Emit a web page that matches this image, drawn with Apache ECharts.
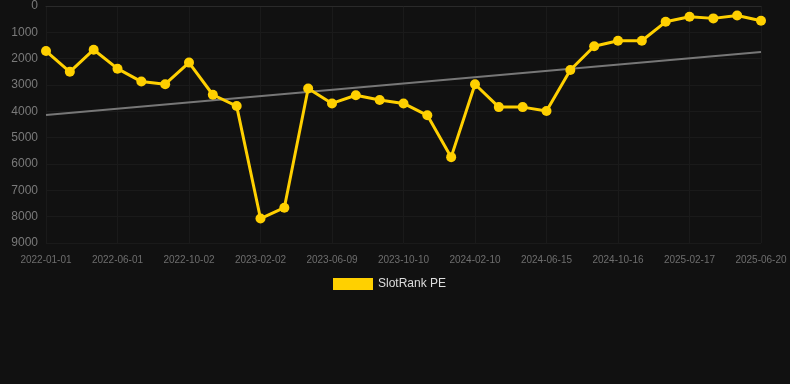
<!DOCTYPE html>
<html>
<head>
<meta charset="utf-8">
<script src="https://cdn.jsdelivr.net/npm/echarts@6/dist/echarts.min.js"></script>
<style>
html,body{margin:0;padding:0;background:#111111;}
#chart{width:790px;height:384px;}
</style>
</head>
<body>
<div id="chart"></div>
<script>
const dates = [
  "2022-01-01","2022-02-20","2022-04-11","2022-06-01","2022-07-22","2022-08-31",
  "2022-10-02","2022-11-12","2022-12-23","2023-02-02","2023-03-16","2023-04-27",
  "2023-06-09","2023-07-20","2023-08-30","2023-10-10","2023-11-20","2023-12-31",
  "2024-02-10","2024-03-22","2024-05-03","2024-06-15","2024-07-26","2024-09-05",
  "2024-10-16","2024-11-26","2025-01-06","2025-02-17","2025-03-31","2025-05-10",
  "2025-06-20"
];
const rankValues = [
  1710, 2500, 1660, 2380, 2870, 2970,
  2150, 3370, 3800, 8070, 7660, 3130,
  3700, 3390, 3570, 3700, 4150, 5740,
  2970, 3840, 3840, 3990, 2430, 1530,
  1320, 1320, 600, 410, 470, 360,
  560
];
const trendEnds = [4140, 1750];
const yTicks = { min: 0, max: 9000, interval: 1000 };

const trendData = dates.map((d, i) => i === 0 ? trendEnds[0] : (i === dates.length - 1 ? trendEnds[1] : null));

const chart = echarts.init(document.getElementById('chart'));
chart.setOption({
  backgroundColor: '#111111',
  animation: false,
  grid: { left: 46, right: 29, top: 6, bottom: 141 },
  legend: {
    show: true,
    top: 278,
    left: 333,
    itemWidth: 40,
    itemHeight: 12,
    itemGap: 10,
    padding: 0,
    textStyle: { color: '#dddddd', fontSize: 12, fontFamily: 'Liberation Sans, Arial, sans-serif' },
    data: [{ name: 'SlotRank PE', icon: 'rect' }]
  },
  xAxis: {
    type: 'category',
    data: dates,
    boundaryGap: false,
    axisLine: { show: true, lineStyle: { color: '#2a2a2a' } },
    axisTick: { show: false },
    axisLabel: { interval: 2, color: '#6e6e6e', fontSize: 10, margin: 12, fontFamily: 'Liberation Sans, Arial, sans-serif' },
    splitLine: { show: true, interval: 2, lineStyle: { color: '#1a1a1a', width: 1 } }
  },
  yAxis: {
    type: 'value',
    inverse: true,
    min: yTicks.min,
    max: yTicks.max,
    interval: yTicks.interval,
    axisLine: { show: false },
    axisTick: { show: false },
    axisLabel: { color: '#7a7a7a', fontSize: 12, margin: 8, formatter: v => String(v), fontFamily: 'Liberation Sans, Arial, sans-serif' },
    splitLine: { show: true, lineStyle: { color: '#1a1a1a', width: 1 } }
  },
  series: [
    {
      name: 'SlotRank PE',
      type: 'line',
      data: rankValues,
      color: '#FFD000',
      lineStyle: { color: '#FFD000', width: 3 },
      itemStyle: { color: '#FFD000' },
      symbol: 'circle',
      symbolSize: 10,
      z: 3
    },
    {
      name: 'trend',
      type: 'line',
      data: trendData,
      connectNulls: true,
      symbol: 'none',
      lineStyle: { color: '#777777', width: 2 },
      z: 2
    }
  ]
});
</script>
</body>
</html>
